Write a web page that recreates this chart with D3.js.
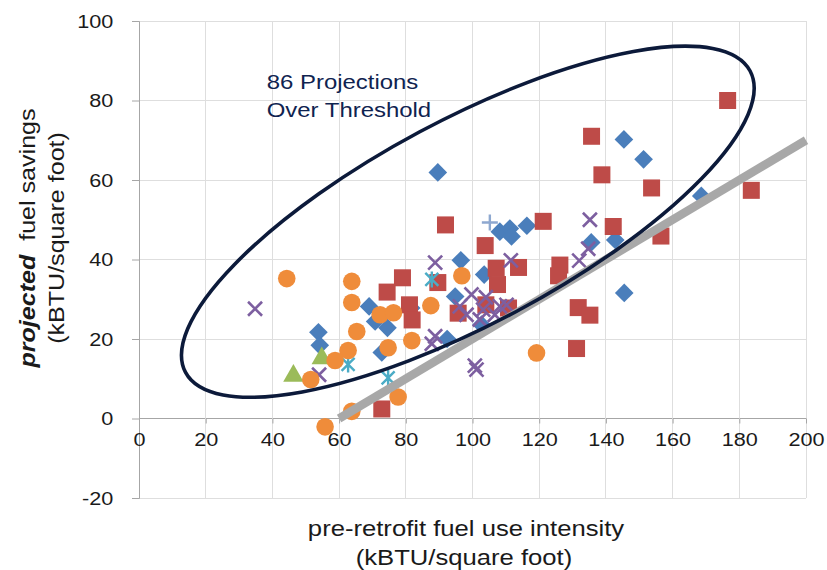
<!DOCTYPE html>
<html><head><meta charset="utf-8">
<script src="https://cdn.jsdelivr.net/npm/d3@7/dist/d3.min.js"></script>
<style>
html,body{margin:0;padding:0;background:#fff;}
text{font-family:"Liberation Sans",Arial,sans-serif;}
</style></head>
<body><svg id="c" width="827" height="570"></svg>
<script>
// ---- data (x = pre-retrofit fuel use intensity, y = projected fuel savings) ----
const xTicks = [0,20,40,60,80,100,120,140,160,180,200];
const yTicks = [-20,0,20,40,60,80,100];
const blueDiamonds = [[89.6,61.9],[145.4,70.2],[151.3,65.2],[168.6,56],[108.2,47],[111.2,47.8],[111.7,45.8],[116.3,48.5],[96.5,39.8],[135.6,44.3],[142.8,44.9],[103.5,36.2],[94.8,30.7],[69,28.2],[81.6,27.8],[70.8,24.4],[74.5,22.8],[53.8,21.7],[54.2,18.4],[72.8,16.6],[92.4,20],[145.5,31.6],[102.7,23.6]];
const redSquares = [[176.5,80],[135.7,71],[138.8,61.3],[153.7,58],[183.6,57.4],[91.9,48.7],[121.2,49.6],[142.2,48.3],[156.5,45.9],[103.8,43.5],[107.1,37.8],[113.8,38],[126.2,38.6],[125.8,35.9],[79,35.4],[74.4,31.8],[81.1,28.6],[81.9,24.8],[95.7,26.5],[89.6,34.2],[107.5,33.7],[104,28.6],[110.8,27.8],[131.7,27.9],[135.2,26],[131.2,17.6],[72.8,2.4]];
const greenTriangles = [[46.3,11],[54.8,15.4]];
const purpleCrosses = [[34.8,27.6],[54,11],[88.8,39.2],[111.5,39.8],[135.2,50],[134.7,42.7],[132,39.7],[99.7,31.2],[96.2,28.2],[98.2,26.1],[103.2,27.4],[106.7,26.1],[108.2,28.2],[102.2,24.9],[110.2,28.6],[88.8,20.7],[87.8,18.8],[101.2,12.3],[100.7,13.3],[104,30.5]];
const cyanStars = [[62.7,13.6],[74.7,10.2],[87.8,35]];
const plusMarks = [[105.2,49.3]];
const orangeCircles = [[44.3,35.2],[63.8,34.5],[63.8,29.2],[72.3,26.1],[76.3,26.6],[65.3,21.9],[81.8,19.6],[74.7,17.8],[62.7,17.1],[58.8,14.6],[51.5,9.8],[77.7,5.4],[63.8,1.8],[55.8,-2.1],[87.5,28.4],[96.8,35.9],[119.2,16.5]];
const thresholdLine = [[60,0],[200,70]];
const ellipseCenter = [98.6,49.5];
const annotation = ["86 Projections","Over Threshold"];

const svg = d3.select("#c");
const x = d3.scaleLinear().domain([0,200]).range([139,806]);
const y = d3.scaleLinear().domain([-20,100]).range([498,21]);
const SX = 1.14; // horizontal widening of the reference lettering
const FONT = "'Liberation Sans',Arial,sans-serif";

// gridlines
svg.append("g").selectAll("line").data(yTicks).join("line")
  .attr("x1",x(0)).attr("x2",x(200)).attr("y1",d=>y(d)).attr("y2",d=>y(d))
  .attr("stroke",d=>d===0?"#a6a6a6":"#dedede").attr("stroke-width",1).attr("shape-rendering","crispEdges");
svg.append("g").selectAll("line").data(xTicks.slice(1)).join("line")
  .attr("y1",y(-20)).attr("y2",y(100)).attr("x1",d=>x(d)).attr("x2",d=>x(d))
  .attr("stroke","#dedede").attr("stroke-width",1).attr("shape-rendering","crispEdges");

// y axis
const yAxis = svg.append("g").attr("transform",`translate(${x(0)},0)`)
  .call(d3.axisLeft(y).tickValues(yTicks).tickSize(7).tickPadding(13).tickFormat(d=>String(d)));
yAxis.select(".domain").attr("stroke","#a6a6a6");
yAxis.selectAll(".tick line").attr("stroke","#a6a6a6");
yAxis.selectAll("text").attr("font-size",19).attr("fill","#1a1a1a").style("font-family",FONT)
  .attr("transform",`translate(${-20*(SX-1)},0) scale(${SX},1)`);

// x axis at y=0
const xAxis = svg.append("g").attr("transform",`translate(0,${y(0)})`)
  .call(d3.axisBottom(x).tickValues(xTicks).tickSize(5).tickPadding(9).tickFormat(d=>String(d)));
xAxis.select(".domain").remove();
xAxis.selectAll(".tick line").attr("stroke","#a6a6a6");
xAxis.selectAll("text").attr("font-size",19).attr("fill","#1a1a1a").style("font-family",FONT)
  .attr("transform",`scale(${SX},1)`);

// markers
const g = svg.append("g");
g.selectAll(".bd").data(blueDiamonds).join("rect")
  .attr("x",-6.6).attr("y",-6.6).attr("width",13.2).attr("height",13.2)
  .attr("fill","#4a7ebb")
  .attr("transform",d=>`translate(${x(d[0])},${y(d[1])}) rotate(45)`);
g.selectAll(".rs").data(redSquares).join("rect")
  .attr("x",d=>x(d[0])-8.5).attr("y",d=>y(d[1])-8.5).attr("width",17).attr("height",17)
  .attr("fill","#be4b48");
g.selectAll(".gt").data(greenTriangles).join("path")
  .attr("d",d3.symbol().type(d3.symbolTriangle).size(180))
  .attr("fill","#9bbb59")
  .attr("transform",d=>`translate(${x(d[0])},${y(d[1])+1})`);
const cross = "M-7,-7L7,7M-7,7L7,-7";
g.selectAll(".pc").data(purpleCrosses).join("path")
  .attr("d",cross).attr("stroke","#7d5fa0").attr("stroke-width",2.6).attr("fill","none")
  .attr("transform",d=>`translate(${x(d[0])},${y(d[1])})`);
g.selectAll(".cs").data(cyanStars).join("path")
  .attr("d","M-6.5,-6.5L6.5,6.5M-6.5,6.5L6.5,-6.5M0,-8L0,8").attr("stroke","#4bacc6").attr("stroke-width",2.4).attr("fill","none")
  .attr("transform",d=>`translate(${x(d[0])},${y(d[1])})`);
g.selectAll(".pl").data(plusMarks).join("path")
  .attr("d","M-8,0L8,0M0,-8L0,8").attr("stroke","#8ea8d0").attr("stroke-width",2.4).attr("fill","none")
  .attr("transform",d=>`translate(${x(d[0])},${y(d[1])})`);
g.selectAll(".oc").data(orangeCircles).join("circle")
  .attr("cx",d=>x(d[0])).attr("cy",d=>y(d[1])).attr("r",8.8)
  .attr("fill","#ef8c3a");

// threshold line (drawn over markers)
svg.append("line")
  .attr("x1",x(thresholdLine[0][0])).attr("y1",y(thresholdLine[0][1]))
  .attr("x2",x(thresholdLine[1][0])).attr("y2",y(thresholdLine[1][1]))
  .attr("stroke","#a8a8a8").attr("stroke-width",8.5);

// ellipse annotation
svg.append("ellipse")
  .attr("cx",0).attr("cy",0).attr("rx",320).attr("ry",102)
  .attr("transform",`translate(${x(ellipseCenter[0])},${y(ellipseCenter[1])}) rotate(-28.1)`)
  .attr("fill","none").attr("stroke","#0c1a3a").attr("stroke-width",3.6);

const ax = x(38.3);
const ann = svg.append("text").attr("transform",`translate(${ax},${y(83)}) scale(${SX},1)`)
  .attr("font-size",21).attr("fill","#0f2350");
ann.selectAll("tspan").data(annotation).join("tspan")
  .attr("x",0).attr("dy",(d,i)=>i?28:0).text(d=>d);

// axis titles
const yt = svg.append("text").attr("transform",`translate(35,238) rotate(-90) scale(${SX},1)`)
  .attr("text-anchor","middle").attr("font-size",22).attr("fill","#1a1a1a");
yt.append("tspan").attr("font-weight","bold").attr("font-style","italic").text("projected");
yt.append("tspan").text("\u00a0 fuel savings");
svg.append("text").attr("transform",`translate(64,238) rotate(-90) scale(${SX},1)`)
  .attr("text-anchor","middle").attr("font-size",22).attr("fill","#1a1a1a").text("(kBTU/square foot)");

svg.append("text").attr("transform",`translate(466,536) scale(${SX},1)`).attr("text-anchor","middle")
  .attr("font-size",22.5).attr("fill","#1a1a1a").text("pre-retrofit fuel use intensity");
svg.append("text").attr("transform",`translate(464,565) scale(${SX},1)`).attr("text-anchor","middle")
  .attr("font-size",22.5).attr("fill","#1a1a1a").text("(kBTU/square foot)");
</script></body></html>
